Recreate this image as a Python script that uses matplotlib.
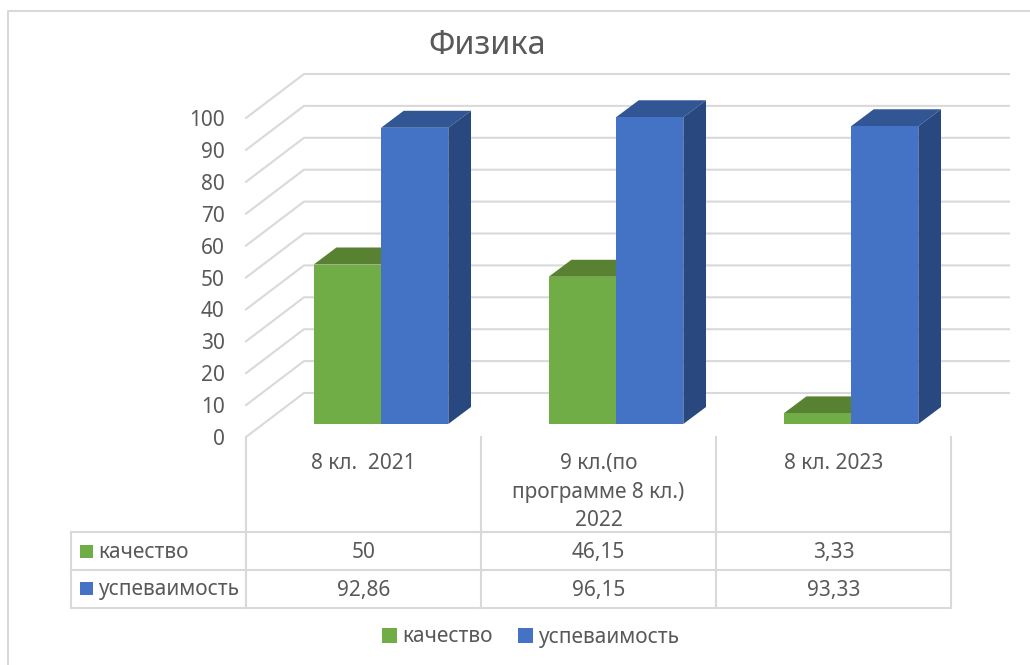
import matplotlib
matplotlib.use('Agg')
import matplotlib.pyplot as plt
from matplotlib.patches import Rectangle

categories = ['8 кл.  2021', '9 кл.(по\nпрограмме 8 кл.)\n2022', '8 кл. 2023']
kachestvo = [50, 46.15, 3.33]
uspevaemost = [92.86, 96.15, 93.33]
kachestvo_txt = ['50', '46,15', '3,33']
uspevaemost_txt = ['92,86', '96,15', '93,33']
yticks = list(range(0, 101, 10))

W, H = 1030, 665
GREEN, GREEN_TOP = '#70ad47', '#588232'
BLUE, BLUE_TOP, BLUE_SIDE = '#4472c4', '#325694', '#2a4880'
GRID = '#d9d9d9'
TEXT = '#595959'

plt.rcParams['font.family'] = ['Noto Sans', 'DejaVu Sans']

# front plane of the 3d box, in pixels
LEFT, RIGHT, BOTTOM, TOP = 246, 951, 437, 118
PX_X = (RIGHT - LEFT) / 3
PX_Y = (BOTTOM - TOP) / 100

fig = plt.figure(figsize=(W / 100, H / 100), dpi=100)
ax = fig.add_axes([LEFT / W, 1 - BOTTOM / H, (RIGHT - LEFT) / W, (BOTTOM - TOP) / H])
ax.set_xlim(0, 3)
ax.set_ylim(0, 100)
for s in ax.spines.values():
    s.set_visible(False)
ax.patch.set_visible(False)
ax.set_xticks([])
ax.set_yticks(yticks)
ax.tick_params(axis='y', length=0, pad=15.5, labelsize=15, labelcolor=TEXT)

# depth offsets converted to data units
wall_dx, wall_dy = 58 / PX_X, 44 / PX_Y
base_dx, base_dy = 17.5 / PX_X, 13 / PX_Y
bar_dx, bar_dy = 22.7 / PX_X, 17 / PX_Y
bar_w = 67.3 / PX_X

# gridlines: wall on the left and the back wall
for v in yticks:
    ax.plot([0, wall_dx, 3 + wall_dx], [v, v + wall_dy, v + wall_dy], color=GRID, lw=1.5,
            clip_on=False, zorder=1, solid_joinstyle='miter')


def top_face(x0, x1, y, color, z):
    ax.fill([x0, x1, x1 + bar_dx, x0 + bar_dx], [y, y, y + bar_dy, y + bar_dy],
            color=color, lw=0, clip_on=False, zorder=z)


for i in range(3):
    cx = i + 0.5 + base_dx
    g_top = kachestvo[i] + base_dy
    b_top = uspevaemost[i] + base_dy
    top_face(cx - bar_w, cx, g_top, GREEN_TOP, 2)
    g = ax.bar(cx - bar_w / 2, kachestvo[i], bar_w, bottom=base_dy, color=GREEN,
               clip_on=False, zorder=3, label='качество')
    top_face(cx, cx + bar_w, b_top, BLUE_TOP, 4)
    ax.fill([cx + bar_w, cx + bar_w + bar_dx, cx + bar_w + bar_dx, cx + bar_w],
            [base_dy, base_dy + bar_dy, b_top + bar_dy, b_top],
            color=BLUE_SIDE, lw=0, clip_on=False, zorder=4)
    b = ax.bar(cx + bar_w / 2, uspevaemost[i], bar_w, bottom=base_dy, color=BLUE,
               clip_on=False, zorder=5, label='успеваимость')

leg = fig.legend(handles=[g, b], loc='center', bbox_to_anchor=(530.5 / W, 1 - 637 / H), ncol=2,
                 frameon=False, fontsize=15, labelcolor=TEXT, handlelength=0.72, handleheight=0.7,
                 handletextpad=0.27, columnspacing=1.2, borderpad=0)

# overlay in pixel coordinates: frame, data table, title
ov = fig.add_axes([0, 0, 1, 1], zorder=-1)
ov.set_xlim(0, W)
ov.set_ylim(H, 0)
ov.axis('off')

ov.plot([8, 8, W], [H, 11, 11], color=GRID, lw=1.5)
ov.text(487, 45, 'Физика', ha='center', va='center', fontsize=23.3, color=TEXT)

col_x = [LEFT + PX_X * i for i in range(4)]
row_y = [532, 570, 608]
ov.plot([71, RIGHT], [row_y[0]] * 2, color=GRID, lw=1.5)
ov.plot([71, RIGHT], [row_y[1]] * 2, color=GRID, lw=1.5)
ov.plot([71, RIGHT], [row_y[2]] * 2, color=GRID, lw=1.5)
ov.plot([71, 71], [row_y[0], row_y[2]], color=GRID, lw=1.5)
for x in col_x:
    ov.plot([x, x], [BOTTOM, row_y[2]], color=GRID, lw=1.5)

for i, c in enumerate(categories):
    cx = col_x[i] + PX_X / 2
    ov.text(cx, 453, c, ha='center', va='top', fontsize=15, color=TEXT, linespacing=1.47)
    ov.text(cx, 552.5, kachestvo_txt[i], ha='center', va='center', fontsize=15, color=TEXT)
    ov.text(cx, 590.5, uspevaemost_txt[i], ha='center', va='center', fontsize=15, color=TEXT)

for y, ty, name, col in [(551, 552, 'качество', GREEN), (588, 590, 'успеваимость', BLUE)]:
    ov.add_patch(Rectangle((80, y - 6.5), 13, 13, color=col, lw=0))
    ov.text(98, ty, name, ha='left', va='center', fontsize=15, color=TEXT)

fig.savefig('out.png', dpi=100)
